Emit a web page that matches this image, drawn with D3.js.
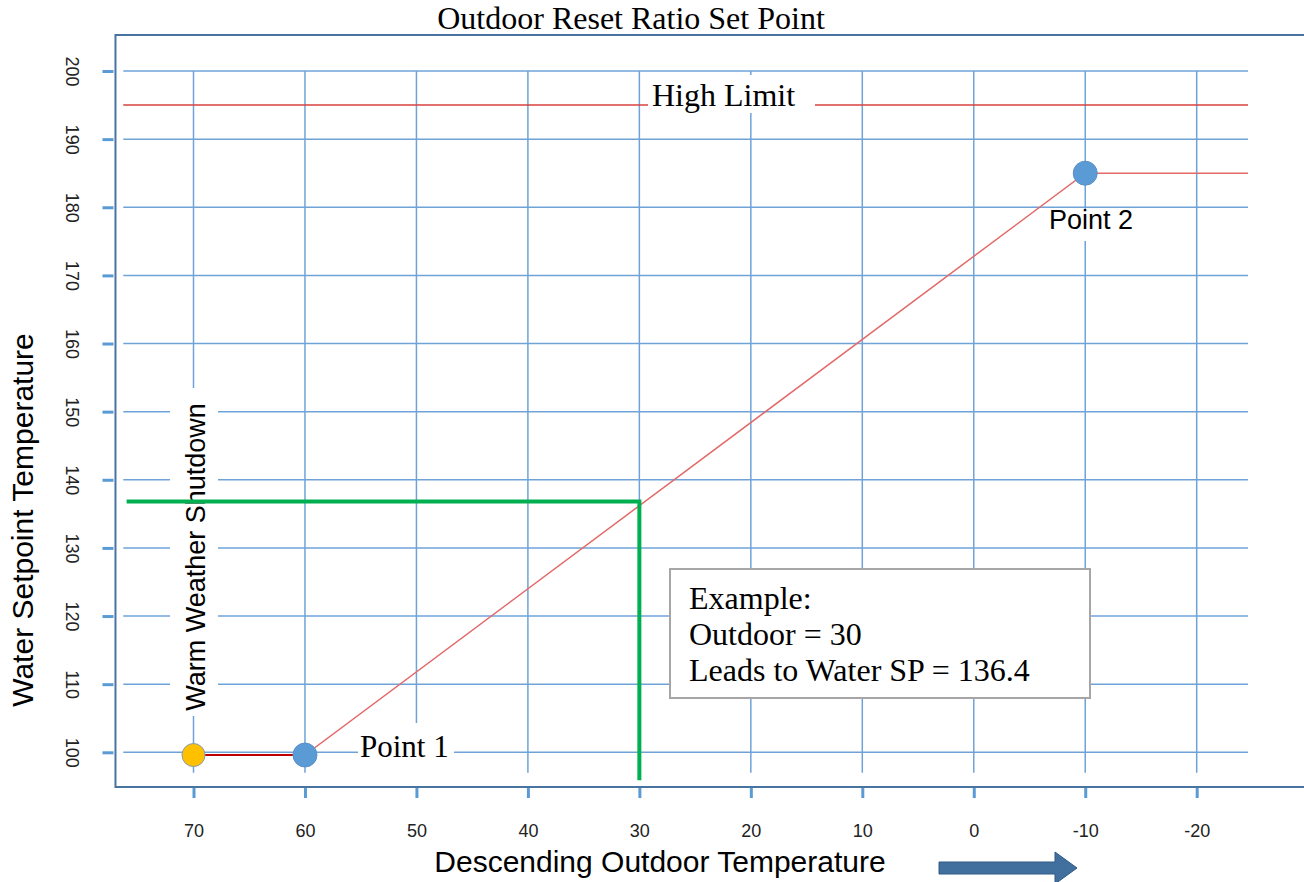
<!DOCTYPE html>
<html>
<head>
<meta charset="utf-8">
<script src="https://cdn.jsdelivr.net/npm/d3@7"></script>
<style>
  html, body { margin: 0; padding: 0; background: #fff; }
  svg { display: block; }
</style>
</head>
<body>
<svg id="chart" width="1304" height="882"></svg>
<script>
// ---- data ----
const xTicks = [70, 60, 50, 40, 30, 20, 10, 0, -10, -20];
const yTicks = [100, 110, 120, 130, 140, 150, 160, 170, 180, 190, 200];
const curveX = [70, 60, -10, -24.6];
const curveY = [99.6, 99.6, 185, 185];
const pointX = [70, 60, -10];
const pointY = [99.6, 99.6, 185];
const pointColor = ["#ffc000", "#5b9bd5", "#5b9bd5"];
const highLimit = 195;
const exampleOutdoor = 30;
const exampleSP = 136.8;
const exampleLines = ["Example:", "Outdoor = 30", "Leads to Water SP = 136.4"];

// ---- scales ----
const svg = d3.select("#chart");
const x = d3.scaleLinear().domain([70, -20]).range([193.5, 1196.7]);
const y = d3.scaleLinear().domain([100, 200]).range([752.3, 71]);

const gridBlue = "#6fa3d8";
const tickBlue = "#5b9bd5";
const serif = "Liberation Serif, Times New Roman, serif";
const sans = "Liberation Sans, Arial, sans-serif";

// frame
svg.append("path")
  .attr("d", `M1310,${y(205.3)} H${x(77)} V${y(94.9)} H1310`)
  .attr("fill", "none").attr("stroke", "#4a74a0").attr("stroke-width", 2);

// horizontal gridlines
svg.append("g").selectAll("line").data(yTicks).join("line")
  .attr("x1", x(76.3)).attr("x2", x(-24.6))
  .attr("y1", d => y(d)).attr("y2", d => y(d))
  .attr("stroke", gridBlue).attr("stroke-width", 1.5);

// vertical gridlines
svg.append("g").selectAll("line").data(xTicks).join("line")
  .attr("x1", d => x(d)).attr("x2", d => x(d))
  .attr("y1", y(200)).attr("y2", y(97))
  .attr("stroke", gridBlue).attr("stroke-width", 1.5);

// y axis ticks and labels
const yAxis = d3.axisLeft(y).tickValues(yTicks).tickSize(0).tickPadding(0);
const yg = svg.append("g").attr("transform", `translate(${x(77)},0)`).call(yAxis);
yg.select(".domain").remove();
yg.selectAll(".tick text").remove();
yg.selectAll(".tick").append("line")
  .attr("x1", -13).attr("x2", -2).attr("stroke", tickBlue).attr("stroke-width", 3);
yg.selectAll(".tick").append("text")
  .attr("transform", "translate(-43,0) rotate(90)")
  .attr("text-anchor", "middle").attr("dy", "0.35em")
  .attr("font-family", sans)
  .attr("font-size", 18).attr("fill", "#222")
  .text(d => d);

// x axis ticks and labels
const xAxis = d3.axisBottom(x).tickValues(xTicks).tickSize(0).tickPadding(0);
const xg = svg.append("g").attr("transform", `translate(0,${y(94.9)})`).call(xAxis);
xg.select(".domain").remove();
xg.selectAll(".tick text").remove();
xg.selectAll(".tick").append("line")
  .attr("y1", 1).attr("y2", 11).attr("stroke", tickBlue).attr("stroke-width", 3);
xg.selectAll(".tick").append("text")
  .attr("y", 50)
  .attr("text-anchor", "middle")
  .attr("font-family", sans)
  .attr("font-size", 18).attr("fill", "#222")
  .text(d => d);

// high limit line
svg.append("line")
  .attr("x1", x(76.3)).attr("x2", x(-24.6))
  .attr("y1", y(highLimit)).attr("y2", y(highLimit))
  .attr("stroke", "#d9413f").attr("stroke-width", 1.5);

// reset curve
const line = d3.line().x((d, i) => x(curveX[i])).y((d, i) => y(curveY[i]));
svg.append("path").datum(curveX)
  .attr("d", line).attr("fill", "none")
  .attr("stroke", "#e26a6a").attr("stroke-width", 1.5);
svg.append("line")
  .attr("x1", x(pointX[0])).attr("x2", x(pointX[1]))
  .attr("y1", y(pointY[0])).attr("y2", y(pointY[1]))
  .attr("stroke", "#c00000").attr("stroke-width", 2);

// labels with white backgrounds
function label(txt, opts) {
  const g = svg.append("g");
  g.append("rect").attr("x", opts.rx).attr("y", opts.ry)
    .attr("width", opts.rw).attr("height", opts.rh).attr("fill", "#fff");
  const t = g.append("text")
    .attr("font-family", opts.font).attr("font-size", opts.size)
    .attr("fill", "#000").text(txt);
  if (opts.rotate) {
    t.attr("transform", `translate(${opts.x},${opts.y}) rotate(-90)`)
     .attr("text-anchor", "middle");
  } else {
    t.attr("x", opts.x).attr("y", opts.y);
  }
}

label("High Limit", { rx: 648, ry: 75, rw: 167, rh: 38, x: 652, y: 106, font: serif, size: 32 });
label("Warm Weather Shutdown", { rx: 170, ry: 388, rw: 48, rh: 328, x: 205, y: 557, font: sans, size: 27, rotate: true });
label("Point 1", { rx: 358, ry: 723, rw: 96, rh: 52, x: 360, y: 757, font: serif, size: 31 });
label("Point 2", { rx: 1045, ry: 211, rw: 95, rh: 30, x: 1049, y: 229, font: sans, size: 27 });

// green example line (on top of label backgrounds)
svg.append("path")
  .attr("d", `M${x(76)},${y(exampleSP)} H${x(exampleOutdoor)} V${y(95.9)}`)
  .attr("fill", "none").attr("stroke", "#00b050").attr("stroke-width", 4);

// points
svg.append("g").selectAll("circle").data(pointX).join("circle")
  .attr("cx", d => x(d)).attr("cy", (d, i) => y(pointY[i]))
  .attr("r", (d, i) => i === 0 ? 11.5 : 12)
  .attr("fill", (d, i) => pointColor[i])
  .attr("stroke", (d, i) => i === 0 ? "#8a9bb0" : "#5b8fc7").attr("stroke-width", 1);

// example box
const ex = svg.append("g");
ex.append("rect").attr("x", 670).attr("y", 569).attr("width", 420).attr("height", 129)
  .attr("fill", "#fff").attr("stroke", "#a6a6a6").attr("stroke-width", 2);
ex.selectAll("text").data(exampleLines).join("text")
  .attr("x", 689).attr("y", (d, i) => 609 + i * 36)
  .attr("font-family", serif).attr("font-size", 32).attr("fill", "#000")
  .text(d => d);

// title
svg.append("text").attr("x", 631).attr("y", 29).attr("text-anchor", "middle")
  .attr("font-family", serif).attr("font-size", 32).attr("fill", "#000")
  .text("Outdoor Reset Ratio Set Point");

// axis titles
svg.append("text").attr("transform", "translate(33,520) rotate(-90)")
  .attr("text-anchor", "middle").attr("font-family", sans).attr("font-size", 30)
  .attr("fill", "#000").text("Water Setpoint Temperature");
svg.append("text").attr("x", 660).attr("y", 872).attr("text-anchor", "middle")
  .attr("font-family", sans).attr("font-size", 30).attr("fill", "#000")
  .text("Descending Outdoor Temperature");

// arrow
svg.append("path")
  .attr("d", "M939,862 H1055 V852 L1077,868 L1055,884 V874 H939 Z")
  .attr("fill", "#41709f").attr("stroke", "#2f5a88").attr("stroke-width", 1);
</script>
</body>
</html>
